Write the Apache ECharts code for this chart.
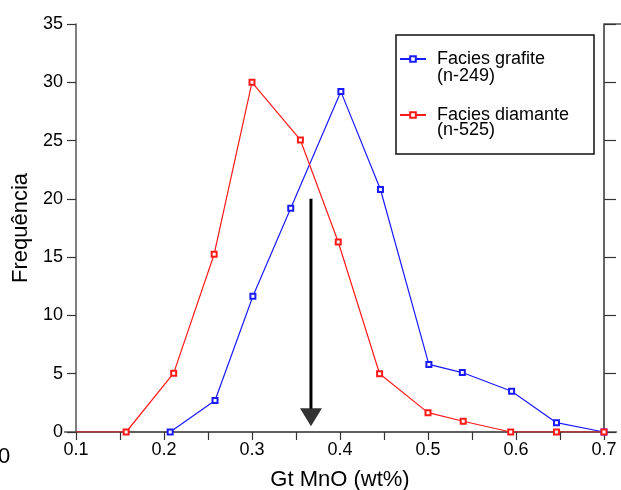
<!DOCTYPE html>
<html>
<head>
<meta charset="utf-8">
<script src="https://cdn.jsdelivr.net/npm/echarts@6/dist/echarts.min.js"></script>
<style>
html,body{margin:0;padding:0;background:#fff;}
#c{width:621px;height:490px;}
</style>
</head>
<body>
<div id="c"></div>
<script>
// ---- data ----
const seriesNames = ['Facies grafite', 'Facies diamante'];
const seriesCounts = ['(n-249)', '(n-525)'];
const blueX = [0.207, 0.258, 0.301, 0.344, 0.401, 0.446, 0.501, 0.539, 0.595, 0.646, 0.7];
const blueY = [0, 2.7, 11.65, 19.2, 29.2, 20.8, 5.8, 5.1, 3.5, 0.8, 0];
const redX = [0.1, 0.157, 0.211, 0.257, 0.300, 0.355, 0.398, 0.445, 0.500, 0.540, 0.594, 0.646, 0.7];
const redY = [0, 0, 5.05, 15.25, 30, 25.05, 16.3, 5.0, 1.66, 0.92, 0, 0, 0];
const arrowX = [0.367, 0.367];
const arrowY = [20, 2.0];
const arrowHead = [0.367, 1.27];
const xTicks = [0.1, 0.2, 0.3, 0.4, 0.5, 0.6, 0.7];
const yTicks = [0, 5, 10, 15, 20, 25, 30, 35];

const FONT = 'Liberation Sans, Arial, sans-serif';
const AX = '#555';

function pairs(xs, ys) { return xs.map((x, i) => [x, ys[i]]); }

const redData = pairs(redX, redY).map((p, i) => i === 0 ? { value: p, symbol: 'none' } : p);

const chart = echarts.init(document.getElementById('c'), null, { renderer: 'canvas' });
chart.setOption({
  animation: false,
  backgroundColor: '#fff',
  textStyle: { fontFamily: FONT },
  grid: { left: 76, right: 17, top: 24, bottom: 58, containLabel: false, outerBoundsMode: 'none' },
  xAxis: [{
    type: 'value', position: 'bottom',
    min: xTicks[0], max: xTicks[xTicks.length - 1], interval: 0.05,
    name: 'Gt MnO (wt%)', nameLocation: 'middle', nameGap: 37,
    nameTextStyle: { fontFamily: FONT, fontSize: 22, color: '#000' },
    axisLine: { show: true, lineStyle: { color: AX, width: 1.5 } },
    axisTick: { show: true, inside: false, length: 8, lineStyle: { color: '#333', width: 1.2 } },
    axisLabel: {
      fontFamily: FONT, fontSize: 18, color: '#000', margin: 9,
      formatter: v => (Math.abs(v * 10 - Math.round(v * 10)) < 1e-6 ? v.toFixed(1) : '')
    },
    splitLine: { show: false }
  }, {
    type: 'value', position: 'top',
    min: xTicks[0], max: xTicks[xTicks.length - 1], interval: 0.05,
    axisLine: { show: true, lineStyle: { color: AX, width: 1.5 } },
    axisTick: { show: false }, axisLabel: { show: false }, splitLine: { show: false }
  }],
  yAxis: [{
    type: 'value', position: 'left',
    min: yTicks[0], max: yTicks[yTicks.length - 1], interval: 5,
    name: 'Frequência', nameLocation: 'middle', nameGap: 43,
    nameTextStyle: { fontFamily: FONT, fontSize: 22, color: '#000' },
    axisLine: { show: true, lineStyle: { color: AX, width: 1.5 } },
    axisTick: { show: true, inside: false, length: 9, lineStyle: { color: '#333', width: 1.2 } },
    axisLabel: { fontFamily: FONT, fontSize: 18, color: '#000', margin: 13 },
    splitLine: { show: false }
  }, {
    type: 'value', position: 'right',
    min: yTicks[0], max: yTicks[yTicks.length - 1], interval: 5,
    axisLine: { show: true, lineStyle: { color: '#333', width: 1.5 } },
    axisTick: { show: true, inside: false, length: 12, lineStyle: { color: '#333', width: 1.2 } },
    axisLabel: { show: false }, splitLine: { show: false }
  }],
  legend: {
    data: seriesNames,
    orient: 'vertical', left: 399, top: 50, itemGap: 38, padding: 0,
    itemWidth: 26, itemHeight: 7,
    textStyle: { fontFamily: FONT, fontSize: 18, color: '#000', padding: [0, 0, 0, 6] },
    selectedMode: false
  },
  graphic: [
    { type: 'rect', shape: { x: 396, y: 35, width: 198, height: 119 }, style: { fill: null, stroke: '#111', lineWidth: 1.5 }, z: 1, silent: true },
    { type: 'text', left: 437, top: 67, style: { text: seriesCounts[0], font: '18px ' + FONT, fill: '#000' }, z: 5 },
    { type: 'text', left: 437, top: 121, style: { text: seriesCounts[1], font: '18px ' + FONT, fill: '#000' }, z: 5 },
    { type: 'line', shape: { x1: 64, y1: 432, x2: 76, y2: 432 }, style: { stroke: AX, lineWidth: 1.5 }, silent: true },
    { type: 'line', shape: { x1: 604, y1: 432, x2: 617, y2: 432 }, style: { stroke: AX, lineWidth: 1.5 }, silent: true },
    { type: 'line', shape: { x1: 604, y1: 24, x2: 621, y2: 24 }, style: { stroke: AX, lineWidth: 1.5 }, silent: true },
    { type: 'text', left: -2, top: 446, style: { text: '0', font: '22px ' + FONT, fill: '#000' }, silent: true }
  ],
  series: [{
    name: seriesNames[0], type: 'line', data: pairs(blueX, blueY),
    color: '#1a1aff',
    symbol: 'emptyRect', symbolSize: 5, showSymbol: true,
    lineStyle: { color: '#1a1aff', width: 1.2 },
    itemStyle: { color: '#1a1aff', borderColor: '#1a1aff', borderWidth: 1.2 },
    z: 3
  }, {
    name: seriesNames[1], type: 'line', data: redData,
    color: '#ff1a1a',
    symbol: 'emptyRect', symbolSize: 5, showSymbol: true,
    lineStyle: { color: '#ff1a1a', width: 1.2 },
    itemStyle: { color: '#ff1a1a', borderColor: '#ff1a1a', borderWidth: 1.2 },
    z: 3
  }, {
    name: 'arrow', type: 'line', data: pairs(arrowX, arrowY),
    symbol: 'none', lineStyle: { color: '#000', width: 3 }, silent: true, z: 4
  }, {
    name: 'arrowHead', type: 'scatter', data: [arrowHead],
    symbol: 'triangle', symbolRotate: 180, symbolSize: [22, 18],
    itemStyle: { color: '#000' }, silent: true, z: 4
  }]
});
</script>
</body>
</html>
